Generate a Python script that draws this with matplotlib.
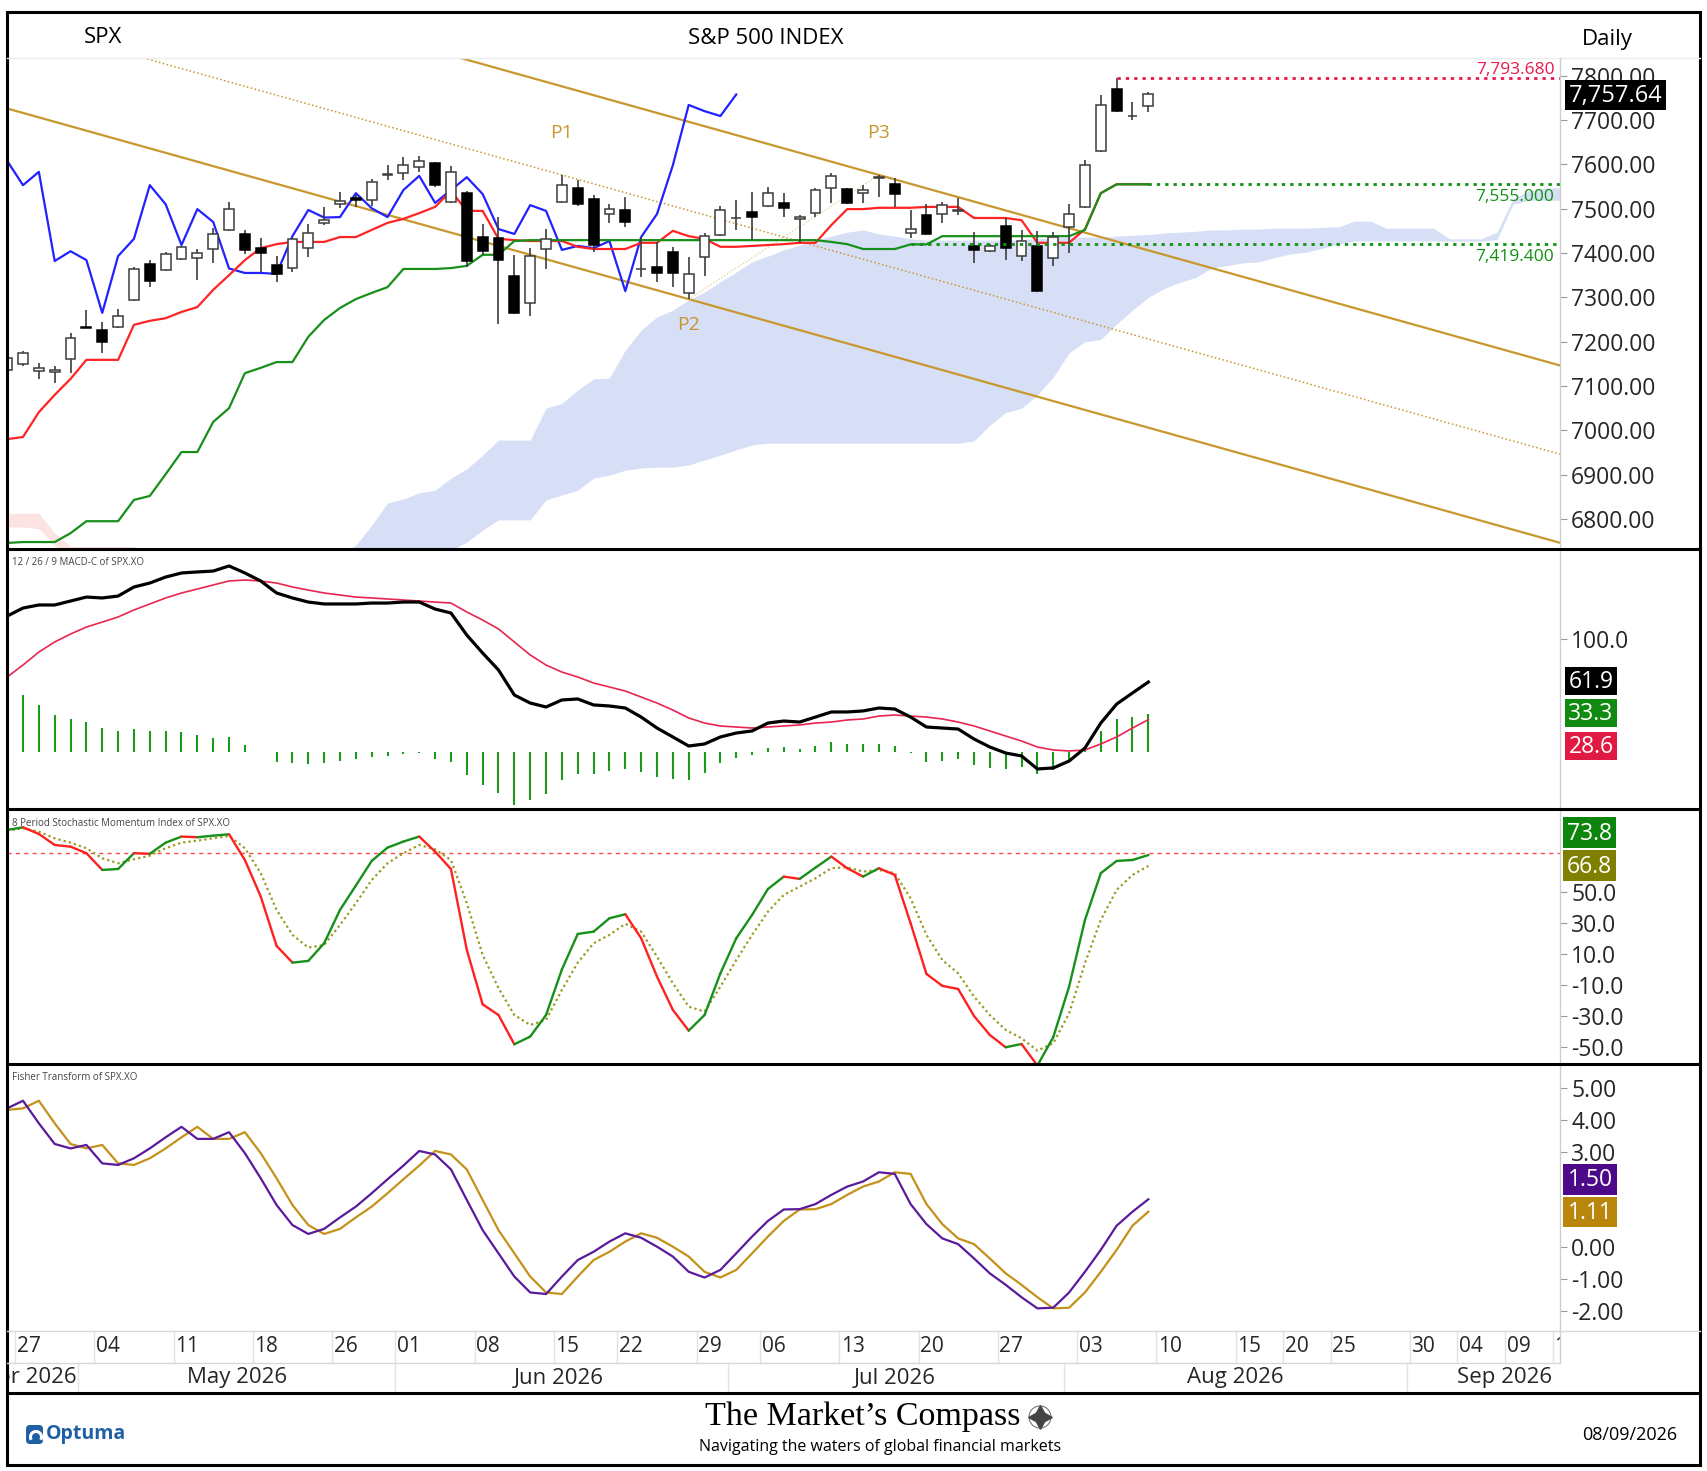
import numpy as np
import matplotlib
matplotlib.use("Agg")
import matplotlib.pyplot as plt
from matplotlib.collections import LineCollection
from matplotlib.patches import Rectangle, FancyBboxPatch, Circle, Arc

plt.rcParams['font.family'] = ['Open Sans', 'DejaVu Sans']

# ---------------- daily SPX bars, 24 Apr .. 07 Aug 2026 ----------------
opens = [7136, 7150, 7134, 7131, 7161, 7232, 7226, 7233, 7294, 7375,
         7362, 7386, 7389, 7409, 7452, 7443, 7411, 7373, 7366, 7411,
         7468, 7510, 7524, 7519, 7577, 7580, 7594, 7603, 7515, 7535,
         7436, 7434, 7348, 7287, 7409, 7515, 7547, 7522, 7488, 7497,
         7364, 7368, 7402, 7310, 7391, 7441, 7479, 7492, 7506, 7513,
         7477, 7490, 7547, 7544, 7535, 7570, 7556, 7445, 7486, 7488,
         7495, 7416, 7405, 7461, 7393, 7416, 7389, 7459, 7504, 7630,
         7770, 7709, 7732]
highs = [7168, 7179, 7152, 7145, 7220, 7271, 7244, 7273, 7369, 7384,
         7402, 7416, 7409, 7456, 7515, 7452, 7434, 7393, 7434, 7465,
         7504, 7538, 7531, 7567, 7598, 7617, 7619, 7605, 7596, 7540,
         7465, 7481, 7395, 7411, 7454, 7576, 7565, 7531, 7510, 7526,
         7436, 7425, 7413, 7391, 7445, 7506, 7519, 7538, 7549, 7535,
         7486, 7547, 7580, 7547, 7553, 7576, 7569, 7497, 7510, 7515,
         7524, 7447, 7420, 7479, 7452, 7450, 7447, 7510, 7610, 7756,
         7793.68, 7741, 7763]
lows = [7132, 7145, 7116, 7107, 7129, 7230, 7174, 7231, 7292, 7323,
        7360, 7384, 7339, 7377, 7450, 7398, 7357, 7335, 7357, 7391,
        7463, 7501, 7504, 7506, 7565, 7565, 7583, 7550, 7513, 7369,
        7395, 7240, 7262, 7258, 7364, 7513, 7507, 7402, 7468, 7459,
        7346, 7335, 7323, 7296, 7348, 7439, 7452, 7429, 7504, 7481,
        7423, 7481, 7513, 7511, 7513, 7526, 7504, 7434, 7441, 7468,
        7486, 7377, 7403, 7384, 7382, 7312, 7371, 7400, 7502, 7628,
        7718, 7700, 7718]
closes = [7163, 7174, 7141, 7136, 7208, 7231, 7199, 7258, 7364, 7337,
          7398, 7413, 7400, 7443, 7499, 7407, 7400, 7353, 7432, 7445,
          7474, 7517, 7519, 7560, 7579, 7598, 7608, 7553, 7583, 7382,
          7404, 7384, 7265, 7393, 7432, 7553, 7510, 7418, 7499, 7470,
          7365, 7355, 7355, 7353, 7438, 7497, 7480, 7481, 7535, 7501,
          7481, 7542, 7574, 7513, 7542, 7571, 7533, 7454, 7443, 7508,
          7495, 7407, 7416, 7411, 7427, 7314, 7436, 7488, 7598, 7734,
          7720, 7709, 7757.64]

# Ichimoku
tenkan = [6980, 6985, 7041, 7080, 7116, 7159, 7159, 7159, 7238, 7247,
          7253, 7267, 7278, 7317, 7350, 7384, 7411, 7420, 7425, 7425,
          7425, 7436, 7436, 7452, 7468, 7477, 7490, 7504, 7540, 7495,
          7495, 7432, 7429, 7427, 7427, 7427, 7414, 7409, 7409, 7409,
          7423, 7423, 7450, 7438, 7432, 7414, 7414, 7416, 7418, 7420,
          7423, 7423, 7463, 7499, 7499, 7502, 7502, 7502, 7504, 7504,
          7504, 7479, 7479, 7479, 7474, 7423, 7423, 7423, 7454, 7535,
          7555, 7555, 7555]
kijun = [6746, 6748, 6748, 6748, 6768, 6795, 6795, 6795, 6843, 6852,
         6901, 6951, 6951, 7019, 7050, 7129, 7141, 7154, 7154, 7211,
         7249, 7276, 7296, 7310, 7323, 7364, 7364, 7364, 7366, 7371,
         7396, 7396, 7427, 7429, 7429, 7429, 7429, 7429, 7429, 7429,
         7429, 7429, 7429, 7429, 7429, 7429, 7429, 7429, 7429, 7429,
         7429, 7429, 7425, 7420, 7409, 7409, 7409, 7419.4, 7419.4, 7438,
         7438, 7438, 7438, 7438, 7438, 7438, 7438, 7438, 7452, 7535,
         7555, 7555, 7555]
span_a = [6782, 6782, 6778, 6742, 6705, 6700, 6700, 6700, 6700,
          6690, 6690, 6690, 6690, 6690, 6690, 6690, 6690, 6690, 6690, 6690, 6690,
          6718, 6741, 6786, 6836, 6845, 6859, 6865, 6892, 6913, 6944,
          6978, 6978, 6978, 7050, 7061, 7091, 7116, 7118, 7181, 7226,
          7256, 7271, 7294, 7312, 7335, 7357, 7380, 7393, 7407, 7418,
          7429, 7438, 7447, 7452, 7443, 7438, 7432, 7429, 7429, 7429,
          7429, 7429, 7429, 7429, 7432, 7434, 7436, 7436, 7436, 7438,
          7440, 7442, 7445, 7447, 7449, 7452, 7452, 7454, 7454, 7456,
          7456, 7456, 7458, 7459, 7472, 7472, 7456, 7456, 7456, 7456,
          7432, 7432, 7432, 7447, 7522, 7540, 7547, 7547]
span_b = [6813, 6813, 6813, 6768, 6738, 6738, 6738, 6738, 6738,
          6720, 6720, 6720, 6720, 6720, 6720, 6720, 6720, 6720, 6720, 6720, 6720,
          6705, 6690, 6700, 6705, 6710, 6715, 6722, 6730, 6748, 6775,
          6798, 6798, 6798, 6843, 6854, 6865, 6892, 6899, 6910, 6915,
          6917, 6917, 6922, 6933, 6944, 6956, 6967, 6971, 6971, 6971,
          6971, 6971, 6971, 6971, 6971, 6971, 6971, 6971, 6971, 6971,
          6976, 7012, 7040, 7050, 7080, 7120, 7175, 7200, 7205, 7240,
          7271, 7300, 7320, 7334, 7345, 7366, 7372, 7378, 7380, 7390,
          7398, 7402, 7411, 7420, 7427, 7427, 7427, 7427, 7427, 7427,
          7427, 7427, 7427, 7430, 7510, 7519, 7519, 7519]
chikou_shift = 26

# pitchfork pivots (bar, price)
pivot_p1 = (35, 7576)
pivot_p2 = (43, 7296)
pivot_p3 = (55, 7576)

# horizontal levels (value, first bar)
level_high = (7793.68, 70)
level_kijun = (7555.0, 72)
level_kijun_prev = (7419.4, 57)

# MACD 12/26/9
macd = [120.2, 127.3, 130.0, 130.0, 133.5, 137.0, 136.2, 137.9, 145.9, 149.4,
        154.7, 158.3, 159.2, 160.0, 164.5, 158.3, 151.2, 140.6, 136.2, 132.6,
        130.9, 130.9, 130.9, 131.7, 131.7, 132.6, 132.6, 126.4, 122.9, 103.4,
        87.5, 72.5, 50.4, 43.3, 39.8, 46.0, 46.9, 41.6, 40.7, 38.9,
        30.9, 21.2, 13.3, 5.3, 7.1, 13.3, 16.8, 18.6, 25.6, 27.4,
        26.5, 30.9, 35.4, 35.4, 36.3, 38.9, 38.0, 30.9, 22.1, 21.2,
        20.3, 11.5, 4.4, -0.9, -3.5, -15.0, -14.1, -8.0, 3.5, 25.6,
        42.4, 52.2, 61.9]
macd_signal = [66.3, 76.9, 88.4, 97.3, 104.3, 110.5, 114.9, 119.4, 125.6, 130.9,
               136.2, 140.6, 144.1, 147.7, 151.2, 152.1, 151.2, 149.4, 145.9, 143.2,
               140.6, 138.8, 137.0, 136.2, 135.3, 134.4, 133.5, 132.6, 131.7, 123.8,
               116.7, 108.8, 97.3, 85.8, 76.9, 70.7, 66.3, 61.0, 57.5, 53.9,
               48.6, 43.3, 37.1, 30.1, 25.6, 23.0, 22.1, 21.2, 22.1, 23.0,
               23.9, 25.6, 26.5, 28.3, 29.2, 31.8, 32.7, 31.8, 30.9, 29.2,
               26.5, 23.0, 18.6, 14.1, 9.7, 4.4, 1.8, 0.9, 1.8, 7.1,
               13.3, 21.2, 28.6]

# 8 period Stochastic Momentum Index
smi = [90.0, 91.7, 87.4, 80.3, 79.2, 75.0, 64.2, 64.8, 75.0, 74.6,
       81.8, 85.7, 85.3, 86.3, 87.2, 70.6, 47.0, 15.2, 4.4, 5.5,
       16.9, 38.4, 54.1, 70.0, 78.6, 82.5, 85.7, 76.0, 64.8, 12.6,
       -22.5, -29.4, -48.3, -43.3, -29.4, 0.0, 22.9, 24.4, 33.0, 35.6,
       20.1, -4.6, -26.1, -39.5, -29.4, -2.5, 20.1, 35.2, 51.9, 59.9,
       58.4, 65.7, 72.8, 65.3, 59.9, 65.3, 61.0, 29.8, -2.9, -10.6,
       -12.6, -30.0, -42.3, -50.2, -48.1, -62.0, -43.7, -11.1, 31.9, 62.1,
       70.0, 70.6, 73.8]
smi_signal = [89.6, 91.1, 88.9, 84.6, 81.8, 78.2, 71.7, 68.5, 71.1, 73.4,
              78.2, 81.8, 83.1, 84.6, 86.1, 78.2, 62.1, 38.4, 22.3, 14.1,
              15.8, 28.7, 42.7, 57.7, 68.5, 75.0, 80.3, 77.5, 70.6, 42.7,
              9.4, -12.1, -29.4, -35.8, -32.6, -13.2, 4.4, 16.9, 22.3, 29.4,
              24.4, 8.3, -8.9, -24.0, -27.2, -11.1, 6.1, 22.3, 37.3, 48.1,
              53.4, 58.8, 65.3, 65.9, 63.1, 64.2, 62.1, 45.9, 22.3, 6.1,
              -2.5, -17.5, -29.4, -39.0, -44.4, -52.4, -47.6, -28.3, 4.0, 31.9,
              51.3, 61.0, 66.8]
smi_overbought = 75

# Fisher transform, trigger = previous bar's value
fisher = [4.36, 4.60, 3.89, 3.24, 3.10, 3.21, 2.63, 2.58, 2.79, 3.10,
          3.45, 3.78, 3.40, 3.40, 3.61, 2.95, 2.16, 1.32, 0.69, 0.41,
          0.57, 0.93, 1.27, 1.69, 2.13, 2.56, 3.02, 2.91, 2.44, 1.48,
          0.53, -0.20, -0.93, -1.43, -1.48, -0.93, -0.41, -0.15, 0.17, 0.43,
          0.29, 0.01, -0.30, -0.78, -0.96, -0.72, -0.20, 0.33, 0.82, 1.18,
          1.19, 1.35, 1.64, 1.90, 2.06, 2.35, 2.30, 1.35, 0.72, 0.27,
          0.09, -0.36, -0.83, -1.19, -1.58, -1.93, -1.91, -1.43, -0.78, -0.09,
          0.67, 1.11, 1.50]
fisher_before_first = 4.31

# date axis
day_bars = [1, 6, 11, 16, 21, 25, 30, 35, 39, 44, 48, 53, 58, 63, 68,
            73, 78, 81, 84, 89, 92, 95, 98]
day_labels = ['27', '04', '11', '18', '26', '01', '08', '15', '22', '29', '06',
              '13', '20', '27', '03', '10', '15', '20', '25', '30', '04', '09', '14']
month_labels = ['Apr 2026', 'May 2026', 'Jun 2026', 'Jul 2026', 'Aug 2026', 'Sep 2026']
month_label_bars = [1.45, 14.5, 34.8, 56.0, 77.5, 94.5]
month_edge_bars = [4.5, 24.5, 45.5, 66.7, 88.3]

# ---------------- layout ----------------
W, H = 1708, 1471
fig = plt.figure(figsize=(W / 100, H / 100), dpi=100)
fig.patch.set_facecolor('white')

BAR0, BAR_W = 7.15, 15.85          # pixel x of bar 0 and bar spacing
PX_L, PX_R = 7, 1560
XMIN = (PX_L - BAR0) / BAR_W
XMAX = (PX_R - BAR0) / BAR_W

GOLD = '#c8972d'
TXT = '#262626'


def panel(top, bottom):
    ax = fig.add_axes([PX_L / W, 1 - bottom / H, (PX_R - PX_L) / W, (bottom - top) / H])
    ax.set_xlim(XMIN, XMAX)
    for s in ax.spines.values():
        s.set_visible(False)
    ax.set_facecolor('none')
    ax.tick_params(axis='x', bottom=False, labelbottom=False)
    ax.yaxis.tick_right()
    ax.tick_params(axis='y', direction='out', length=5, width=0.8, color='#9a9a9a',
                   pad=3, labelsize=16.5, labelcolor=TXT)
    return ax


x = np.arange(len(closes))
o, h, l, c = (np.array(v, dtype=float) for v in (opens, highs, lows, closes))

# ---- price panel ----
ax = panel(58, 549)
ax.set_ylim(6732.3, 7839.9)
ax.set_yticks(np.arange(6800, 7801, 100))
ax.yaxis.set_major_formatter(plt.FuncFormatter(lambda v, p: f"{v:.2f}"))

xc = np.arange(len(span_a))
sa, sb = np.array(span_a, float), np.array(span_b, float)
ax.fill_between(xc, sa, sb, where=sa >= sb, interpolate=True, color='#d6dff6', lw=0, zorder=1)
ax.fill_between(xc, sa, sb, where=sa < sb, interpolate=True, color='#fde2e2', lw=0, zorder=1)

# pitchfork
mid = ((pivot_p2[0] + pivot_p3[0]) / 2, (pivot_p2[1] + pivot_p3[1]) / 2)
slope = (mid[1] - pivot_p1[1]) / (mid[0] - pivot_p1[0])
ax.axline(pivot_p1, mid, color=GOLD, lw=1.1, ls=(0, (1, 1.6)), zorder=2)
ax.axline(pivot_p2, slope=slope, color=GOLD, lw=1.6, zorder=2)
ax.axline(pivot_p3, slope=slope, color=GOLD, lw=1.6, zorder=2)
ax.plot([pivot_p2[0], pivot_p3[0]], [pivot_p2[1], pivot_p3[1]], color='#e3c88e',
        lw=0.9, ls=(0, (1, 1.6)), zorder=2)
ax.text(pivot_p1[0], pivot_p1[1] + 95, 'P1', color=GOLD, fontsize=14, ha='center', va='center')
ax.text(pivot_p2[0], pivot_p2[1] - 59, 'P2', color=GOLD, fontsize=14, ha='center', va='center')
ax.text(pivot_p3[0], pivot_p3[1] + 95, 'P3', color=GOLD, fontsize=14, ha='center', va='center')

# ichimoku lines
ax.plot(x[:len(closes) - chikou_shift], c[chikou_shift:], color='#2222ff', lw=1.6, zorder=3)
ax.plot(x, tenkan, color='#ff2424', lw=1.6, zorder=3)
ax.plot(x, kijun, color='#17901a', lw=1.6, zorder=3)

# candles
up = c >= o
body_lo = np.minimum(o, c)
body_h = np.maximum(np.abs(c - o), 1.0)
ax.vlines(x, l, h, color='#3c3c3c', lw=1.2, zorder=4)
ax.bar(x, body_h, bottom=body_lo, width=0.62, color=np.where(up, 'white', 'black'),
       edgecolor=np.where(up, '#3c3c3c', 'black'), lw=1.1, zorder=5)

# dotted levels
dot = (0, (1.2, 1.8))
for (val, start), col, dy in [(level_high, '#e8194b', 6),
                              (level_kijun, '#119111', -9),
                              (level_kijun_prev, '#119111', -9)]:
    ax.plot([start, XMAX], [val, val], color=col, lw=2.0, ls=dot, zorder=6)
    ax.annotate(f"{val:,.3f}", xy=(1, val), xycoords=('axes fraction', 'data'),
                xytext=(-4, dy), textcoords='offset points', ha='right', va='center',
                color=col, fontsize=12.5, zorder=7)

# ---- MACD panel ----
axm = panel(549, 809)
axm.set_ylim(-50.4, 179.5)
axm.set_yticks([100])
axm.yaxis.set_major_formatter(plt.FuncFormatter(lambda v, p: f"{v:.1f}"))
mh = np.array(macd) - np.array(macd_signal)
axm.vlines(x, 0, mh, color='#1c9a1c', lw=1.5)
axm.plot(x, macd_signal, color='#e8264f', lw=1.2)
axm.plot(x, macd, color='black', lw=2.3)

# ---- SMI panel ----
axs = panel(809, 1064)
axs.set_ylim(-61.0, 103.5)
axs.set_yticks(np.arange(-50, 51, 20))
axs.yaxis.set_major_formatter(plt.FuncFormatter(lambda v, p: f"{v:.1f}"))
axs.axhline(smi_overbought, color='#ff4a4a', lw=1.0, ls=(0, (3, 3)))
axs.plot(x, smi_signal, color='#9a9a1e', lw=1.6, ls=(0, (1, 1.4)))
pts = np.column_stack([x, smi])
segs = np.stack([pts[:-1], pts[1:]], axis=1)
seg_col = np.where(np.diff(smi) >= 0, '#17901a', '#ff2020')
axs.add_collection(LineCollection(segs, colors=seg_col, linewidths=1.7,
                                  capstyle='round', joinstyle='round'))

# ---- Fisher panel ----
axf = panel(1064, 1331)
axf.set_ylim(-2.642, 5.755)
axf.set_yticks([-2, -1, 0, 3, 4, 5])
axf.yaxis.set_major_formatter(plt.FuncFormatter(lambda v, p: f"{v:.2f}"))
trigger = [fisher_before_first] + fisher[:-1]
axf.plot(x, trigger, color='#c4921a', lw=1.6)
axf.plot(x, fisher, color='#5a1a9c', lw=1.6)

# ---- date axis ----
axd = fig.add_axes([PX_L / W, 1 - 1393 / H, (PX_R - PX_L) / W, (1393 - 1331) / H])
axd.set_xlim(XMIN, XMAX)
axd.set_ylim(1393, 1331)
axd.axis('off')
for b, lab in zip(day_bars, day_labels):
    axd.vlines(b - 0.5, 1331, 1363, color='#e2e2e2', lw=1)
    axd.text(b - 0.4, 1347, lab, ha='left', va='center', fontsize=15, color=TXT, clip_on=True)
for b in month_edge_bars:
    axd.vlines(b, 1363, 1393, color='#e2e2e2', lw=1)
for b, lab in zip(month_label_bars, month_labels):
    axd.text(b, 1378, lab, ha='center', va='center', fontsize=16, color=TXT, clip_on=True)

# ---------------- overlay: frame, header, footer, value boxes ----------------
ov = fig.add_axes([0, 0, 1, 1], zorder=20)
ov.set_xlim(0, W)
ov.set_ylim(H, 0)
ov.axis('off')
ov.patch.set_alpha(0)

ov.plot([7, 1700], [58, 58], color='#ececec', lw=1)
ov.plot([PX_R, PX_R], [58, 1363], color='#cfcfcf', lw=1)
ov.plot([7, 1700], [1331, 1331], color='#d8d8d8', lw=1)
ov.plot([7, PX_R], [1363, 1363], color='#d8d8d8', lw=1)
for yy in (549, 809, 1064, 1393):
    ov.plot([7, 1700], [yy, yy], color='black', lw=2.2, solid_capstyle='butt')
ov.add_patch(Rectangle((7, 12), 1693, 1453, fill=False, ec='black', lw=2.2))

ov.text(103, 37, 'SPX', fontsize=16, ha='center', va='center', color='black')
ov.text(766, 38, 'S&P 500 INDEX', fontsize=16, ha='center', va='center', color='black')
ov.text(1607, 39, 'Daily', fontsize=16, ha='center', va='center', color='black')

ov.text(12, 562, '12 / 26 / 9 MACD-C of SPX.XO', fontsize=7, ha='left', va='center', color='#444444')
ov.text(12, 823, '8 Period Stochastic Momentum Index of SPX.XO', fontsize=7, ha='left', va='center', color='#444444')
ov.text(12, 1077, 'Fisher Transform of SPX.XO', fontsize=7, ha='left', va='center', color='#444444')


def value_box(x0, x1, y0, y1, txt, fc, size=16.5):
    ov.add_patch(Rectangle((x0, y0), x1 - x0, y1 - y0, fc=fc, ec='none'))
    ov.text((x0 + x1) / 2, (y0 + y1) / 2 + 1, txt, color='white', fontsize=size,
            ha='center', va='center')


value_box(1565, 1666, 80, 110, f"{closes[-1]:,.2f}", 'black', 17)
value_box(1565, 1617, 667, 695, f"{macd[-1]:.1f}", 'black')
value_box(1565, 1617, 699, 727, f"{mh[-1]:.1f}", '#118a11')
value_box(1565, 1617, 732, 760, f"{macd_signal[-1]:.1f}", '#e01a42')
value_box(1563, 1616, 817, 848, f"{smi[-1]:.1f}", '#0d850d')
value_box(1563, 1616, 850, 881, f"{smi_signal[-1]:.1f}", '#808000')
value_box(1563, 1617, 1164, 1195, f"{fisher[-1]:.2f}", '#4d0a88')
value_box(1563, 1617, 1197, 1227, f"{trigger[-1]:.2f}", '#b8860b')

# footer
ov.add_patch(FancyBboxPatch((26, 1425), 17, 19, boxstyle='round,pad=0,rounding_size=4',
                            fc='#1f5fa6', ec='none'))
ov.add_patch(Arc((36, 1437), 11, 11, theta1=150, theta2=390, color='white', lw=2.2))
ov.text(46, 1434, 'Optuma', fontsize=14, fontweight='bold', color='#1f5fa6',
        ha='left', va='center')
ov.text(863, 1417, 'The Market\u2019s Compass', family=['Liberation Serif', 'DejaVu Serif'],
        fontsize=24.5, ha='center', va='center', color='black')
ov.add_patch(Circle((1040, 1417), 11, fill=False, ec='#777777', lw=0.8))
ov.plot(1040, 1417, marker=(4, 1, 0), ms=17, color='#444444')
ov.text(880, 1447, 'Navigating the waters of global financial markets', fontsize=11.5,
        ha='center', va='center', color='black')
ov.text(1630, 1435, '08/09/2026', fontsize=13, ha='center', va='center', color='black')

fig.savefig('out.png', dpi=100)
